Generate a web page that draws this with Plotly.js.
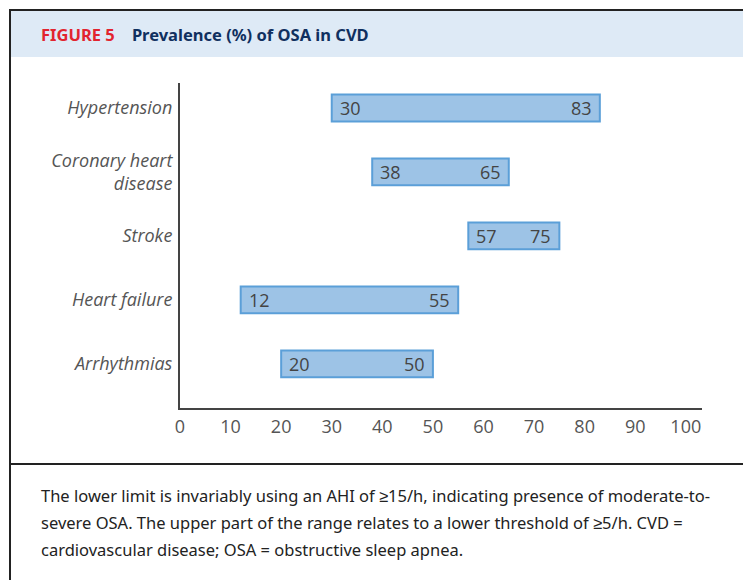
<!DOCTYPE html>
<html>
<head>
<meta charset="utf-8">
<script src="https://cdn.plot.ly/plotly-3.0.1.min.js"></script>
<style>
  html, body { margin: 0; padding: 0; background: #ffffff; }
  #chart { width: 743px; height: 580px; }
</style>
</head>
<body>
<div id="chart"></div>
<script>
// ---- data ----
const categories = ["Hypertension", "Coronary heart disease", "Stroke", "Heart failure", "Arrhythmias"];
const categoryLabels = ["Hypertension", "Coronary heart<br>disease", "Stroke", "Heart failure", "Arrhythmias"];
const lowerPct = [30, 38, 57, 12, 20];   // AHI >= 15/h
const upperPct = [83, 65, 75, 55, 50];   // AHI >= 5/h
const xTickVals = [0, 10, 20, 30, 40, 50, 60, 70, 80, 90, 100];

const titleText = '<span style="color:#e2242f">FIGURE 5</span>&nbsp;&nbsp;&nbsp; <span style="color:#10305f">Prevalence (%) of OSA in CVD</span>';
const captionLines = [
  "The lower limit is invariably using an AHI of \u226515/h, indicating presence of moderate-to-",
  "severe OSA. The upper part of the range relates to a lower threshold of \u22655/h. CVD =",
  "cardiovascular disease; OSA = obstructive sleep apnea."
];

// ---- layout geometry helpers (pixel -> paper) ----
const W = 743, H = 580;
const L = 180, R = 702, T = 83, B = 408;
const px = v => (v - L) / (R - L);
const py = v => (B - v) / (B - T);

const spans = upperPct.map((u, i) => u - lowerPct[i]);

const barTrace = {
  type: "bar",
  orientation: "h",
  y: categories,
  x: spans,
  base: lowerPct,
  width: 0.42,
  marker: { color: "#9dc3e6", line: { color: "#5b9fd8", width: 2 } },
  hoverinfo: "skip",
  showlegend: false
};

const annotations = [];
categories.forEach((c, i) => {
  annotations.push({
    x: lowerPct[i], y: c, xref: "x", yref: "y",
    text: String(lowerPct[i]), showarrow: false,
    xanchor: "left", yanchor: "middle", xshift: 6,
    font: { family: "Open Sans, Noto Sans, sans-serif", size: 18, color: "#444" }
  });
  annotations.push({
    x: upperPct[i], y: c, xref: "x", yref: "y",
    text: String(upperPct[i]), showarrow: false,
    xanchor: "right", yanchor: "middle", xshift: -6,
    font: { family: "Open Sans, Noto Sans, sans-serif", size: 18, color: "#444" }
  });
});
const capY = [495, 522, 549];
captionLines.forEach((t, i) => {
  annotations.push({
    x: px(39), y: py(capY[i]), xref: "paper", yref: "paper",
    text: t, showarrow: false, xanchor: "left", yanchor: "middle", align: "left",
    font: { family: "Noto Sans, sans-serif", size: 16.5, color: "#222" }
  });
});

const shapes = [
  // header band
  { type: "rect", xref: "paper", yref: "paper", x0: px(10), x1: px(760), y0: py(57), y1: py(11),
    fillcolor: "#deeaf6", line: { width: 0 }, layer: "below" },
  // top border
  { type: "line", xref: "paper", yref: "paper", x0: px(9), x1: px(760), y0: py(10), y1: py(10),
    line: { color: "#222", width: 2 } },
  // left border
  { type: "line", xref: "paper", yref: "paper", x0: px(10), x1: px(10), y0: py(9), y1: py(600),
    line: { color: "#222", width: 2 } },
  // divider
  { type: "line", xref: "paper", yref: "paper", x0: px(10), x1: px(760), y0: py(464), y1: py(464),
    line: { color: "#222", width: 2 } }
];

const layout = {
  width: W, height: H,
  margin: { l: L, r: W - R, t: T, b: H - B, pad: 0 },
  paper_bgcolor: "#ffffff",
  plot_bgcolor: "rgba(0,0,0,0)",
  title: {
    text: titleText,
    x: 41 / W, xref: "container", xanchor: "left",
    y: 1 - 35 / H, yref: "container", yanchor: "middle",
    font: { family: "Noto Sans, sans-serif", size: 16.5, weight: "bold", color: "#10305f" }
  },
  xaxis: {
    range: [0, 103.2],
    tickvals: xTickVals,
    ticktext: xTickVals.map(String),
    showline: true, linecolor: "#444", linewidth: 2,
    showgrid: false, zeroline: false, ticks: "",
    ticklabelstandoff: 1,
    tickfont: { family: "Open Sans, Noto Sans, sans-serif", size: 18, color: "#555" },
    fixedrange: true
  },
  yaxis: {
    type: "category",
    categoryorder: "array",
    categoryarray: categories,
    range: [4.69, -0.39],
    tickvals: categories,
    ticktext: categoryLabels,
    showline: true, linecolor: "#444", linewidth: 2,
    showgrid: false, zeroline: false, ticks: "",
    ticklabelstandoff: 2,
    tickfont: { family: "Open Sans, Noto Sans, sans-serif", size: 18, color: "#555", style: "italic" },
    fixedrange: true
  },
  shapes: shapes,
  annotations: annotations,
  showlegend: false
};

Plotly.newPlot("chart", [barTrace], layout, { staticPlot: true, displayModeBar: false });
</script>
</body>
</html>
